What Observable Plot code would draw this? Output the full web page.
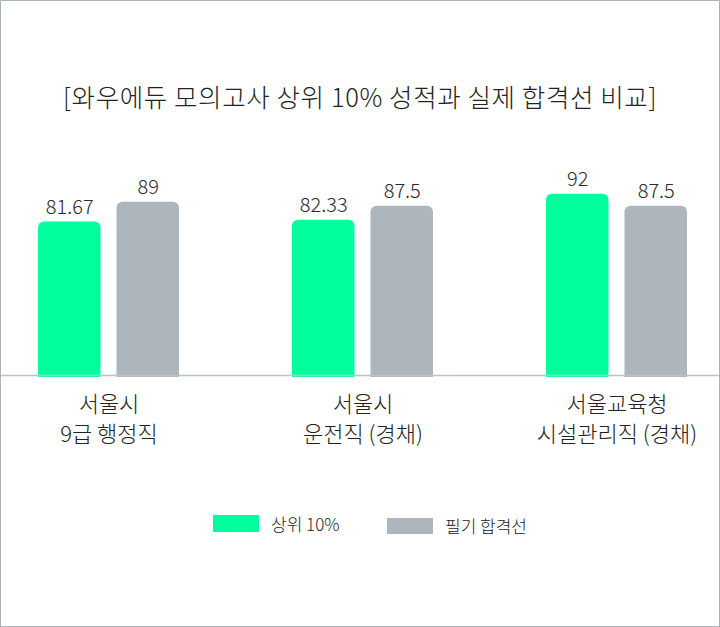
<!DOCTYPE html>
<html>
<head>
<meta charset="utf-8">
<script src="https://cdn.jsdelivr.net/npm/d3@7"></script>
<script src="https://cdn.jsdelivr.net/npm/@observablehq/plot@0.6"></script>
<style>
  body { margin: 0; background: #fff; font-family: "Noto Sans CJK KR", "Noto Sans", sans-serif; }
  #wrap { position: relative; width: 720px; height: 627px; overflow: hidden; background: #fff; }
  #border { position: absolute; left: 0; top: 0; width: 720px; height: 627px; box-sizing: border-box; border: 1px solid #aab2ba; pointer-events: none; }
  #title { position: absolute; left: 0; width: 720px; top: 77px; text-align: center; font-size: 25.5px; font-weight: 300; color: #222; letter-spacing: 0.6px; white-space: nowrap; }
  #chart { position: absolute; left: 0; top: 0; }
  .leg { position: absolute; display: flex; align-items: center; font-size: 17px; font-weight: 300; color: #222; }
  .sw { display: inline-block; width: 46px; margin-right: 12px; }
</style>
</head>
<body>
<div id="wrap">
  <div id="title">[와우에듀 모의고사 상위 10% 성적과 실제 합격선 비교]</div>
  <div id="chart"></div>
  <div id="legend"></div>
  <div id="border"></div>
</div>
<script>
const groups = ["서울시\n9급 행정직", "서울시\n운전직 (경채)", "서울교육청\n시설관리직 (경채)"];
const top10 = [81.67, 82.33, 92];
const cutoff = [89, 87.5, 87.5];
const seriesNames = ["상위 10%", "필기 합격선"];
const colors = ["#00FF9C", "#ADB5BD"];
const yBase = 25;
const yMax = 100;

const dataA = groups.map((g, i) => ({group: g, value: top10[i]}));
const dataB = groups.map((g, i) => ({group: g, value: cutoff[i]}));

const font = '"Noto Sans CJK KR", "Noto Sans", sans-serif';
const barInset = 78.5;   // two bars per group band
const labelShift = 39.25;

const chart = Plot.plot({
  width: 720,
  height: 460,
  marginTop: 172,
  marginBottom: 85,
  marginLeft: 0,
  marginRight: 0,
  style: {fontFamily: font, background: "transparent", fontWeight: 300},
  x: {domain: groups, paddingInner: 0.446, paddingOuter: 0.1386, align: 0.53, label: null},
  y: {domain: [yBase, yMax], clamp: true, axis: null},
  marks: [
    Plot.barY(dataA, {x: "group", y: "value", fill: colors[0], insetRight: barInset, insetBottom: -2, ry1: 6}),
    Plot.barY(dataB, {x: "group", y: "value", fill: colors[1], insetLeft: barInset, insetBottom: -2, ry1: 6}),
    Plot.ruleY([yBase], {stroke: "#b9c1c9", strokeWidth: 1.5}),
    Plot.text(dataA, {x: "group", y: "value", text: d => String(d.value), dx: -labelShift, dy: -8, lineAnchor: "bottom", fontSize: 20, fill: "#2a2a2a"}),
    Plot.text(dataB, {x: "group", y: "value", text: d => String(d.value), dx: labelShift, dy: -8, lineAnchor: "bottom", fontSize: 20, fill: "#2a2a2a"}),
    Plot.axisX({tickSize: 0, tickPadding: 15, fontSize: 22, lineHeight: 1.37, fill: "#222", label: null})
  ]
});
document.getElementById("chart").appendChild(chart);

// legend
const legendPos = [{left: 213, top: 515}, {left: 387, top: 517}];
const legend = document.getElementById("legend");
seriesNames.forEach((name, i) => {
  const item = document.createElement("div");
  item.className = "leg";
  item.style.left = legendPos[i].left + "px";
  item.style.top = legendPos[i].top + "px";
  item.style.height = "17px";
  const sw = document.createElement("span");
  sw.className = "sw";
  sw.style.background = colors[i];
  sw.style.height = (i === 0 ? 17 : 16) + "px";
  item.appendChild(sw);
  const t = document.createElement("span");
  t.textContent = name;
  item.appendChild(t);
  legend.appendChild(item);
});
</script>
</body>
</html>
